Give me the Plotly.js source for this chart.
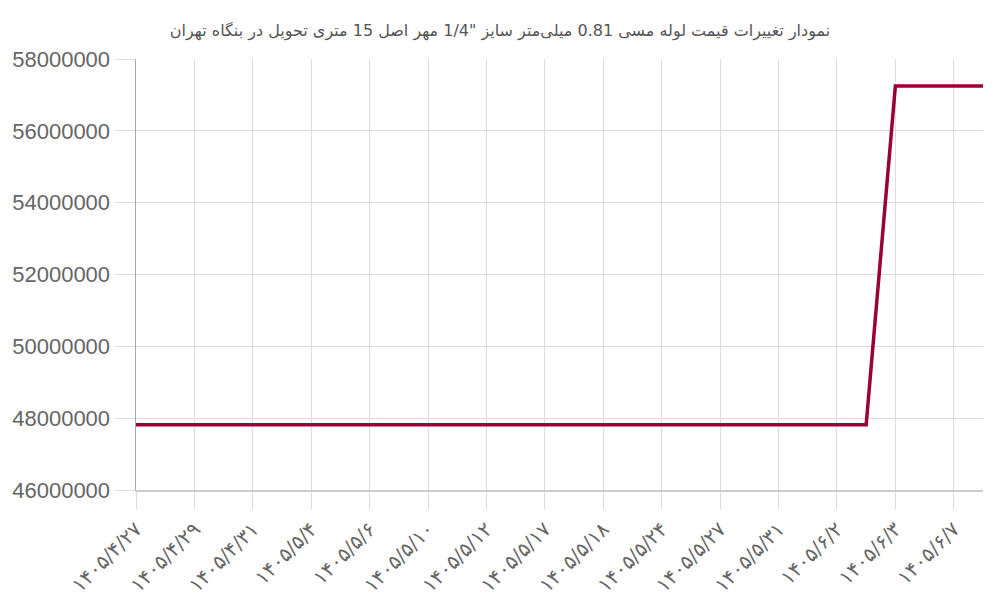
<!DOCTYPE html>
<html>
<head>
<meta charset="utf-8">
<script src="https://cdn.plot.ly/plotly-3.0.1.min.js"></script>
<style>
  html, body { margin: 0; padding: 0; background: #fff; }
  #chart { width: 1000px; height: 600px; }
</style>
</head>
<body>
<div id="chart"></div>
<script>
// price per sample (rial), one sample every half label step
const prices = [
    47820000, 47820000, 47820000, 47820000, 47820000, 47820000,
    47820000, 47820000, 47820000, 47820000, 47820000, 47820000,
    47820000, 47820000, 47820000, 47820000, 47820000, 47820000,
    47820000, 47820000, 47820000, 47820000, 47820000, 47820000,
    47820000, 47820000, 57250000, 57250000, 57250000, 57250000
];

// dates shown on the axis (every second sample)
const dateLabels = [
    "۱۴۰۵/۴/۲۷", "۱۴۰۵/۴/۲۹", "۱۴۰۵/۴/۳۱", "۱۴۰۵/۵/۴", "۱۴۰۵/۵/۶",
    "۱۴۰۵/۵/۱۰", "۱۴۰۵/۵/۱۲", "۱۴۰۵/۵/۱۷", "۱۴۰۵/۵/۱۸", "۱۴۰۵/۵/۲۴",
    "۱۴۰۵/۵/۲۷", "۱۴۰۵/۵/۳۱", "۱۴۰۵/۶/۲", "۱۴۰۵/۶/۳", "۱۴۰۵/۶/۷"
];

const yTicks = [46000000, 48000000, 50000000, 52000000, 54000000, 56000000, 58000000];

const chartTitle = 'نمودار تغییرات قیمت لوله مسی 0.81 میلی‌متر سایز "1/4 مهر اصل 15 متری تحویل در بنگاه تهران';

const xIndex = prices.map((_, i) => i);
const labelPos = dateLabels.map((_, i) => i * 2);

const trace = {
    type: "scatter",
    mode: "lines",
    x: xIndex,
    y: prices,
    line: { color: "#990033", width: 3.5 },
    hoverinfo: "skip"
};

const layout = {
    width: 1000,
    height: 600,
    title: {
        text: chartTitle,
        x: 0.5,
        xanchor: "center",
        y: 0.95,
        yanchor: "middle",
        font: { family: "DejaVu Sans, Noto Sans, sans-serif", size: 16, color: "#555" }
    },
    margin: { l: 136, r: 17, t: 59, b: 110 },
    showlegend: false,
    paper_bgcolor: "white",
    plot_bgcolor: "white",
    xaxis: {
        range: [0, prices.length - 1],
        tickmode: "array",
        tickvals: labelPos,
        ticktext: dateLabels,
        tickangle: -45,
        ticks: "outside",
        ticklen: 18,
        tickcolor: "#dddddd",
        showgrid: true,
        gridcolor: "#dddddd",
        showline: true,
        linecolor: "#cccccc",
        linewidth: 1.5,
        zeroline: false,
        tickfont: { family: "DejaVu Sans, sans-serif", size: 20, color: "#666" }
    },
    yaxis: {
        range: [46000000, 58000000],
        tickmode: "array",
        tickvals: yTicks,
        ticktext: yTicks.map(v => String(v)),
        ticks: "outside",
        ticklen: 20,
        tickcolor: "#dddddd",
        showgrid: true,
        gridcolor: "#dddddd",
        showline: true,
        linecolor: "#aaaaaa",
        linewidth: 1.5,
        zeroline: false,
        tickfont: { family: "Liberation Sans, Arial, sans-serif", size: 22, color: "#666" }
    }
};

Plotly.newPlot("chart", [trace], layout, { displayModeBar: false, staticPlot: true });
</script>
</body>
</html>
